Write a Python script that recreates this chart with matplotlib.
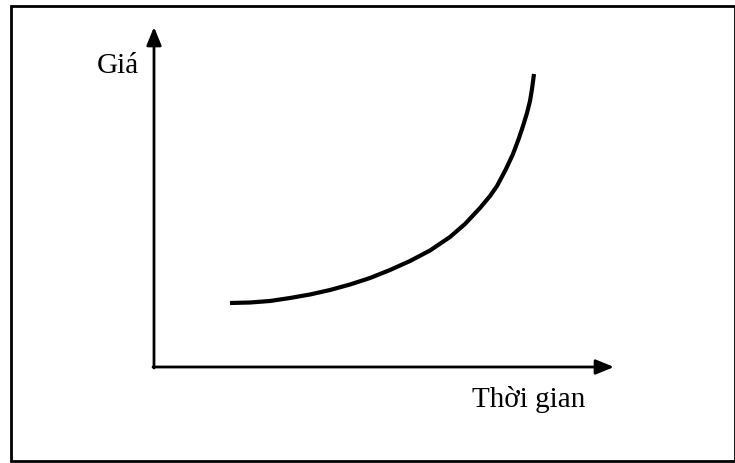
import matplotlib.pyplot as plt
from matplotlib.patches import Rectangle

# curve, relative to the axes origin (pixels right / up)
time = [76, 96, 116, 136, 156, 176, 196, 216, 236, 256, 276, 296, 311, 326, 336, 343, 352, 359, 365, 369, 373, 376, 378, 380]
price = [64, 64.5, 66, 69, 72.5, 77, 82.5, 89, 97, 106, 116.5, 130, 143, 159, 171, 181, 198, 213, 229, 241, 254, 266, 278, 293]

x_label = "Thời gian"
y_label = "Giá"

W, H = 735, 464
ox, oy = 154, 368  # axes origin in pixels

fig = plt.figure(figsize=(W / 100, H / 100), dpi=100)
ax = fig.add_axes([0, 0, 1, 1])
ax.set_xlim(0, W)
ax.set_ylim(H, 0)
ax.axis("off")

ax.add_patch(Rectangle((11, 7), 724, 455, fill=False, lw=2, ec="black"))

# axes with arrow heads
ax.annotate("", xy=(ox, 28), xytext=(ox, oy + 1),
            arrowprops=dict(arrowstyle="-|>,head_length=1.1,head_width=0.45",
                            lw=2, color="black", shrinkA=0, shrinkB=0))
ax.annotate("", xy=(614, oy), xytext=(ox - 1, oy),
            arrowprops=dict(arrowstyle="-|>,head_length=1.1,head_width=0.45",
                            lw=2, color="black", shrinkA=0, shrinkB=0))

ax.plot([ox + t for t in time], [oy - p for p in price], color="black", lw=3,
        solid_capstyle="butt", solid_joinstyle="round")

ax.text(97, 73, y_label, fontsize=21, family="Liberation Serif", va="baseline")
ax.text(472, 407, x_label, fontsize=21, family="Liberation Serif", va="baseline")

fig.savefig("out.png", dpi=100)
